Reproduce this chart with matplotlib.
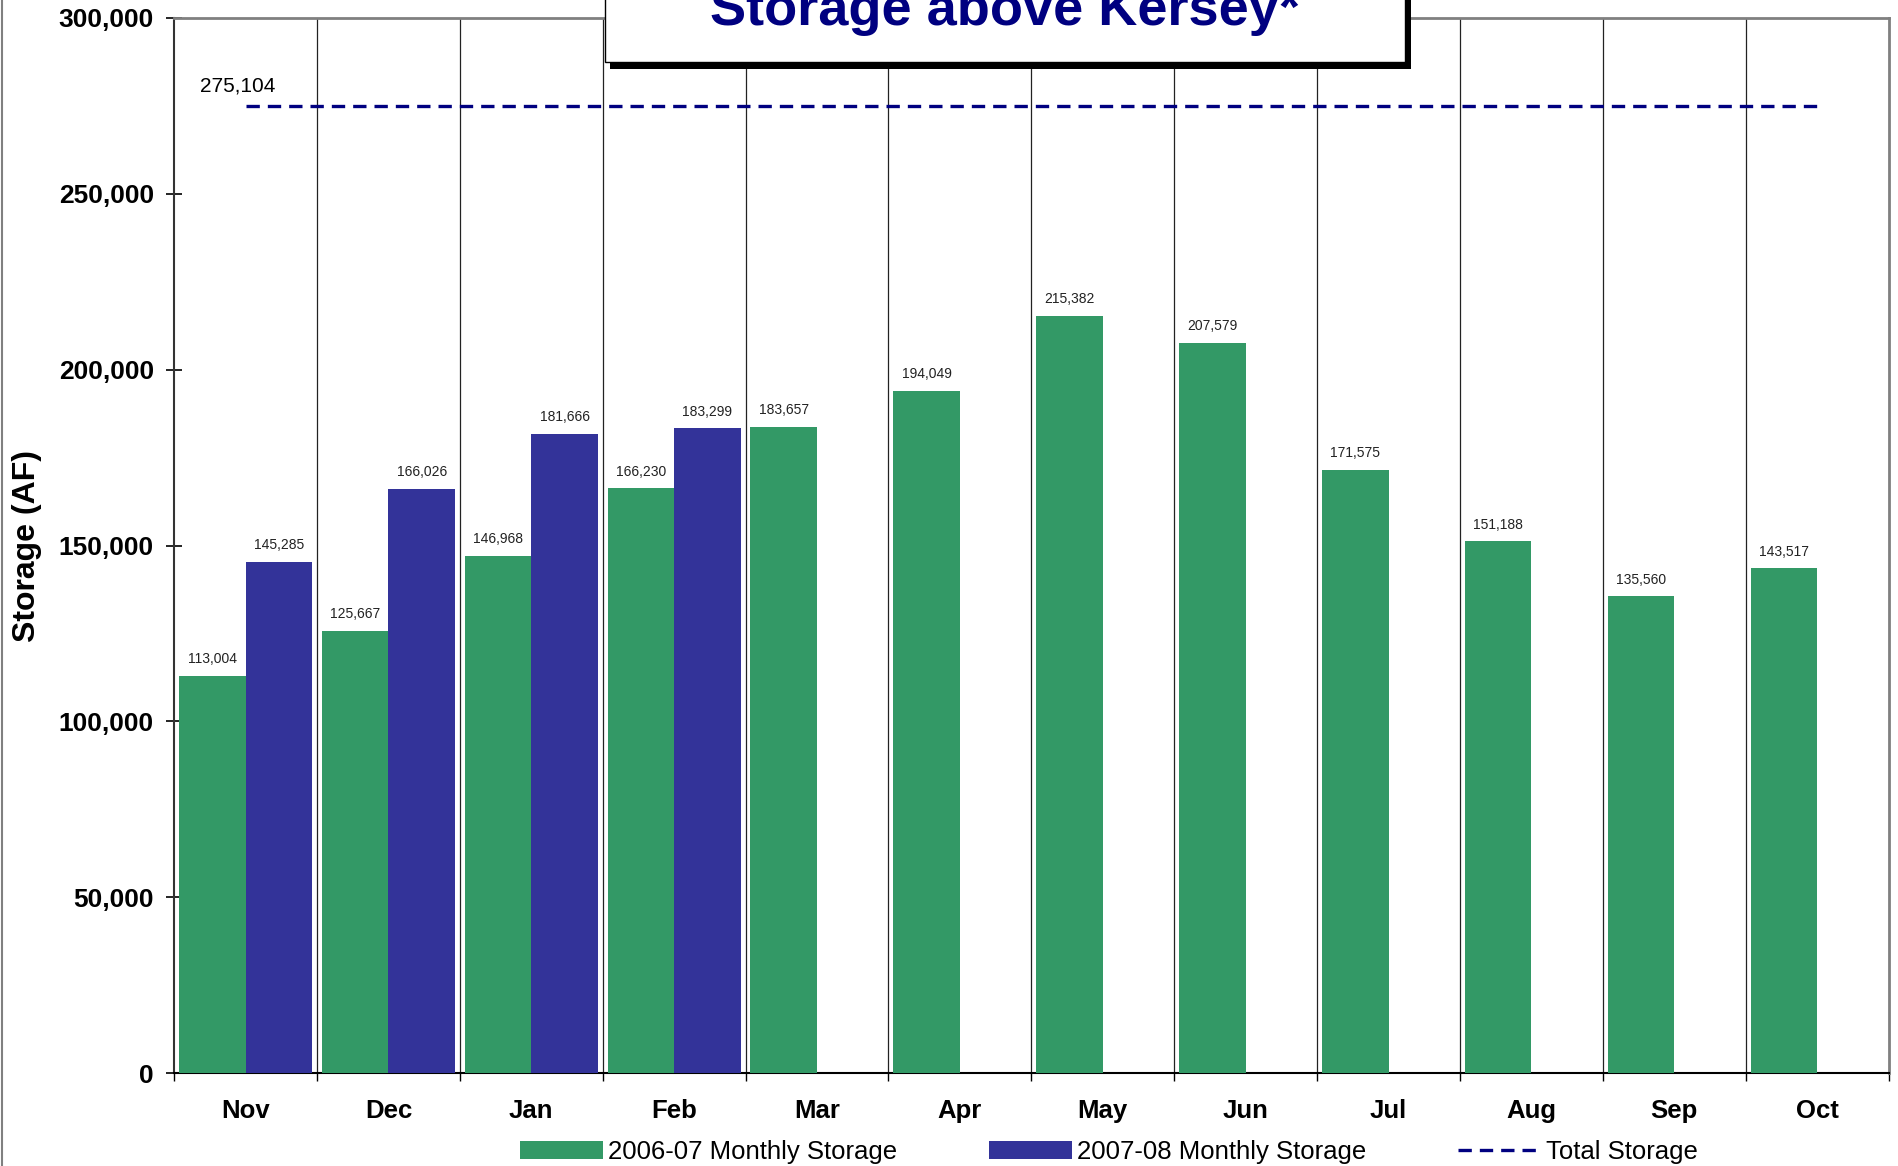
import numpy as np
import matplotlib.pyplot as plt
from matplotlib.patches import Rectangle
from matplotlib.lines import Line2D
from matplotlib.ticker import FuncFormatter

plt.rcParams['font.family'] = ['Liberation Sans', 'DejaVu Sans']

########## données ##########
months = ['Nov', 'Dec', 'Jan', 'Feb', 'Mar', 'Apr', 'May', 'Jun', 'Jul', 'Aug', 'Sep', 'Oct']
storage_0607 = [113004, 125667, 146968, 166230, 183657, 194049, 215382, 207579, 171575, 151188, 135560, 143517]
storage_0708 = [145285, 166026, 181666, 183299]
total_storage = 275104

green = '#339966'
blue = '#333399'
navy = '#000080'

fig = plt.figure(figsize=(18.99, 11.66), dpi=100)
ax = fig.add_axes([0.0917, 0.0797, 0.9945 - 0.0917, 0.9846 - 0.0797])

x = np.arange(len(months))
w = 0.466
### barres 2006-07 (à gauche) et 2007-08 (à droite)
b1 = ax.bar(x - w/2, storage_0607, w, color=green, zorder=3, label='2006-07 Monthly Storage')
b2 = ax.bar(x[:len(storage_0708)] + w/2, storage_0708, w, color=blue, zorder=3, label='2007-08 Monthly Storage')

### étiquettes au dessus des barres
for bars in [b1, b2]:
    for r in bars:
        h = r.get_height()
        ax.annotate('{:,}'.format(h), (r.get_x() + r.get_width()/2, h), xytext=(0, 7),
                    textcoords='offset points', ha='center', va='bottom', fontsize=10, color='#222222')

### ligne du stockage total
ln, = ax.plot([x[0], x[-1]], [total_storage, total_storage], color=navy, lw=2.4,
              dashes=(4, 2.4), zorder=4, label='Total Storage')
ax.annotate('{:,}'.format(total_storage), (x[0], total_storage), xytext=(-6, 14),
            textcoords='offset points', ha='center', va='center', fontsize=15)

ax.set_xlim(-0.5, len(months) - 0.5)
ax.set_ylim(0, 300000)
ax.set_yticks(np.arange(0, 300001, 50000))
ax.yaxis.set_major_formatter(FuncFormatter(lambda v, p: '{:,}'.format(int(v))))
ax.tick_params(axis='y', direction='inout', length=11, width=1.2, labelsize=19, pad=9)
for t in ax.get_yticklabels():
    t.set_fontweight('bold')

### graduations aux limites des catégories, noms au centre
ax.set_xticks(np.arange(-0.5, len(months), 1.0))
ax.set_xticklabels([])
ax.set_xticks(x, minor=True)
ax.set_xticklabels(months, minor=True, fontsize=18.5, fontweight='bold')
ax.tick_params(axis='x', which='major', direction='out', length=6, width=1)
ax.tick_params(axis='x', which='minor', length=0, pad=19)
for b in np.arange(0.5, len(months) - 1, 1.0):
    ax.axvline(b, color='#222222', lw=0.9, zorder=1)

ax.spines['top'].set_color('#808080')
ax.spines['top'].set_linewidth(2)
ax.spines['right'].set_color('#808080')
ax.spines['right'].set_linewidth(2)
ax.spines['left'].set_color('#333333')
ax.spines['left'].set_linewidth(1.5)
ax.spines['bottom'].set_linewidth(1.5)

ax.set_ylabel('Storage (AF)', fontsize=23, fontweight='bold')
ax.yaxis.set_label_coords(-0.077, 0.4995)

### légende sous le graphique
leg = fig.legend(handles=[b1, b2, ln], loc='center', bbox_to_anchor=(0.584, 1 - 1152/1166), ncol=3,
                 fontsize=18.5, frameon=True, facecolor='white', edgecolor='white', framealpha=1,
                 handlelength=3.2, handleheight=0.72, handletextpad=0.2, columnspacing=3.6,
                 borderpad=0.6, fancybox=False)
leg.set_zorder(10)

### cadre du titre avec ombre
fig.patches.append(Rectangle((610/1899, 1 - 69/1166), (1411 - 610)/1899, 0.2, transform=fig.transFigure,
                             facecolor='black', edgecolor='none', zorder=20))
fig.patches.append(Rectangle((605/1899, 1 - 62/1166), (1405 - 605)/1899, 0.2, transform=fig.transFigure,
                             facecolor='white', edgecolor='black', lw=1, zorder=21))
fig.text(0.529, 1 - 25/1166, 'Storage above Kersey*', ha='center', va='baseline', fontsize=39,
         fontweight='bold', color=navy, zorder=22)

### bord gauche de l'image
fig.add_artist(Line2D([0.0008, 0.0008], [0, 1], color='#808080', lw=1.5, transform=fig.transFigure))

fig.savefig('out.png', dpi=100)
